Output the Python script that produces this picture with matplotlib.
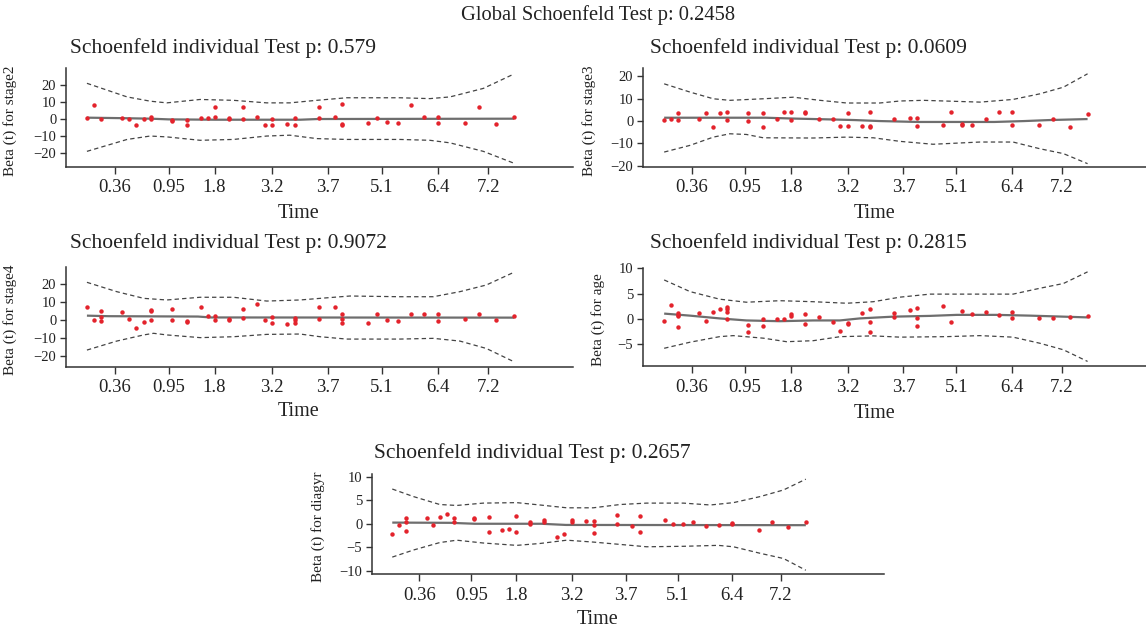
import matplotlib
matplotlib.use("Agg")
import matplotlib.pyplot as plt

plt.rcParams['font.family'] = ['Liberation Serif', 'DejaVu Serif']

W, H = 1146, 633

# ---------------- data ----------------
global_title = "Global Schoenfeld Test p: 0.2458"

# transformed event-time positions (shared by all panels)
time_pos = [0, 1.6, 3.3, 8.3, 9.8, 11.5, 13.3, 14.9, 19.8, 23.4, 26.6, 28.3, 29.9,
            33.3, 36.6, 39.8, 41.6, 43.4, 46.8, 48.7, 54.3, 58.0, 59.8, 65.9, 67.8,
            70.3, 72.8, 75.9, 79.0, 82.2, 88.6, 91.8, 95.8, 100]
tick_pos = [6.5, 19.1, 29.9, 43.4, 56.5, 69.0, 82.2, 93.9]
tick_labels = ["0.36", "0.95", "1.8", "3.2", "3.7", "5.1", "6.4", "7.2"]

variables = ["stage2", "stage3", "stage4", "age", "diagyr"]
p_values = ["0.579", "0.0609", "0.9072", "0.2815", "0.2657"]

stage2_resid = [[0.4], [8.2], [-0.2], [0.4], [-0.2], [-3.5], [-0.2], [1.2, -0.2], [-0.6, -1.4],
                [-0.6, -3.3], [0.4], [0.4], [7, 1], [0.4, -0.2], [7, -0.2], [1], [-3.3],
                [-0.2, -3.3], [-3], [0.4, -3.3], [7, 0.4], [1], [8.6, -3, -3.5], [-2.3], [0.4],
                [-1.8], [-2.3], [8], [1], [1, -2.3], [-2.3], [7], [-3], [1]]
stage3_resid = [[0.6], [1.0], [3.6, 0.6], [1.0], [3.6], [-2.7], [3.6], [4.0, 0.6], [3.6, 0.1],
                [3.6, -2.7], [1.0], [4.0], [4.0, 0.6], [4.0, 3.6], [1.0], [1.0], [-2.2],
                [3.6, -2.2], [-2.2], [4.0, -2.2, -2.7], [1.0], [1.5], [1.5, -2.2], [-1.9], [4.0],
                [-1.3, -1.6], [-1.9], [1.0], [4.0], [4.0, -1.9], [-1.9], [1.0], [-2.7], [3.1]]
stage4_resid = [[7.4], [0], [5.4, 1.9, -0.6], [4.8], [0.7], [-4.1], [-0.9], [5.9, 5.0, 0],
                [6.3, 0], [-0.2, -1.1], [7.4], [2.2], [2.2, 0.2], [0.9, 0.4], [6.3, 1.1], [8.9],
                [0.2], [1.9, -1.5], [-2.0], [1.5, 0.2, -1.5], [7.4, 0.6], [7.4], [3.7, 0.6, -1.5],
                [-1.5], [3.7], [0.2], [-0.4], [3.3], [3.3], [3.3, -0.4], [0.6], [3.3], [0], [2.6]]
age_resid = [[-0.4], [2.8], [1.1, 0.8, 0.6, -1.6], [1.1], [-0.5], [1.4], [2.0], [2.3, 2.0, 1.4, 0],
             [-1.25, -2.6], [-0.1, -1.45], [0], [0], [1.05, 0.6], [1.05, -1.1], [0.4], [-0.7],
             [-2.4], [-0.85, -1.05], [1.25], [2.0, -0.6, -2.6], [1.1, 0.4], [1.85],
             [2.2, 0.2, -1.45], [2.55], [-0.6], [1.65], [1.05], [1.45], [0.7], [1.45, 0.2],
             [0.2], [0.2], [0.4], [0.6]]
diagyr_resid = [[-2.2], [-0.2], [1.3, 0.4, -1.5], [1.2], [-0.2], [1.5], [2.1], [1.3, 0.3],
                [1.2, 1.0], [1.4, -1.8], [-1.35], [-1.15], [1.7, -1.8], [0.3, -0.15], [0.7, 0.4],
                [-2.8], [-2.2], [0.7, 0.4], [0.5], [0.5, -0.35, -2.0], [1.85, 0], [-0.4],
                [1.7, -1.8], [0.7], [-0.15], [-0.15], [0.4], [-0.4], [-0.2], [0.07, -0.15],
                [-1.35], [0.3], [-0.65], [0.3]]

# smoothed beta(t) curves
stage2_fit_x = [0, 8.6, 15, 19.1, 30, 50, 54, 100]
stage2_fit_y = [0.8, 0.5, 0.2, -0.2, -0.4, -0.4, 0.0, 0.2]
stage3_fit_x = [0, 24, 31, 39, 45, 51, 60, 78, 85, 91, 100]
stage3_fit_y = [1.5, 1.5, 1.1, 0.75, 0.45, 0.0, -0.4, -0.4, 0.0, 0.45, 0.9]
stage4_fit_x = [0, 5, 26, 29, 100]
stage4_fit_y = [2.6, 2.3, 2.1, 1.6, 1.5]
age_fit_x = [0, 6.1, 13.1, 19.4, 27.3, 35.2, 41.5, 46.2, 54.1, 62.8, 69.1, 78.5, 86.4, 94.3, 100]
age_fit_y = [1.05, 0.65, 0.1, -0.3, -0.45, -0.3, -0.3, 0.1, 0.45, 0.6, 0.8, 0.8, 0.65, 0.45, 0.3]
diagyr_fit_x = [0, 14, 20, 36, 42, 100]
diagyr_fit_y = [0.25, 0.2, 0.0, 0.0, -0.25, -0.3]

# confidence bands
stage2_up_x = [0, 9.4, 14.8, 18.7, 26.5, 34.3, 42.1, 47.5, 53.8, 60.8, 73.3, 80.3, 85, 92.8, 100]
stage2_up_y = [21, 13, 10.5, 9.5, 11.5, 11, 9.5, 9.5, 11, 12.5, 12.5, 12, 13, 18, 26.5]
stage2_lo_x = stage2_up_x
stage2_lo_y = [-19, -12, -10, -10.5, -12.5, -12, -10, -9.5, -11.5, -12, -12, -12.5, -14, -19, -26]

stage3_up_x = [0, 6.1, 11.6, 15.5, 23.4, 30.5, 36.8, 43.1, 50.9, 55.7, 61.2, 74.6, 82.4, 88.7, 94.3, 100]
stage3_up_y = [16.7, 13, 10, 9.3, 10, 10.7, 9.3, 8.1, 8.1, 9, 9.3, 8.5, 9.7, 12.2, 15.2, 21.2]
stage3_lo_x = [0, 6.1, 11.6, 15.5, 19.4, 23.4, 35.2, 43.1, 49.4, 55.7, 63.5, 74.6, 82.4, 88.7, 94.3, 100]
stage3_lo_y = [-13.9, -10.9, -7.2, -5.7, -6.0, -7.5, -7.6, -7.2, -7.5, -9.1, -10.4, -9.4, -9.4, -12.4, -14.6, -19.1]

stage4_up_x = [0, 7, 13.3, 18.7, 26.5, 34.3, 42.1, 49.9, 54.6, 61.6, 73.3, 81.1, 87.3, 93.5, 100]
stage4_up_y = [21.1, 15.9, 12.2, 11.3, 12.8, 12.8, 10.7, 11.3, 12.2, 13.5, 13.1, 13.1, 15.9, 19.6, 26.7]
stage4_lo_x = [0, 7, 13.3, 15.6, 18.7, 26.5, 34.3, 42.1, 49.9, 54.6, 60.8, 73.3, 81.1, 87.3, 93.5, 100]
stage4_lo_y = [-16.5, -11.5, -8.1, -7.2, -8.1, -9.6, -9.1, -7.8, -7.6, -9.1, -10.4, -10.4, -10, -11.5, -15.6, -23.0]

age_up_x = [0, 6.1, 13.1, 19.4, 27.3, 35.2, 43.1, 49.4, 55.7, 62.8, 74.6, 82.4, 88.7, 94.3, 100]
age_up_y = [7.7, 5.4, 3.9, 3.3, 3.6, 3.4, 3.1, 3.4, 4.3, 4.9, 4.9, 4.9, 6.05, 7.0, 9.3]
age_lo_x = [0, 6.1, 13.1, 16.3, 23.4, 28.9, 35.2, 41.6, 49.4, 55.7, 66.7, 74.6, 82.4, 88.7, 94.3, 100]
age_lo_y = [-5.8, -4.6, -3.5, -3.3, -3.8, -4.5, -4.3, -3.5, -3.35, -3.6, -3.5, -3.3, -3.6, -4.8, -6.1, -8.4]

diagyr_up_x = [0, 5.1, 11.5, 15.6, 22, 30.1, 35.7, 42.2, 48.6, 55.1, 61.5, 70.4, 76.9, 82.5, 89, 94.6, 100]
diagyr_up_y = [7.4, 5.8, 4.1, 3.9, 4.4, 4.5, 4.0, 3.4, 3.4, 4.1, 4.4, 4.4, 4.0, 4.5, 5.8, 7.2, 9.5]
diagyr_lo_x = [0, 5.1, 11.5, 15.6, 22, 30.1, 35.7, 42.2, 48.6, 55.1, 61.5, 70.4, 78.8, 82.5, 89, 94.6, 100]
diagyr_lo_y = [-7.1, -5.6, -4.0, -3.5, -4.1, -4.6, -4.2, -3.5, -3.9, -4.4, -4.9, -4.8, -4.6, -4.9, -6.3, -7.4, -9.9]

y_ticks = {"stage2": [-20, -10, 0, 10, 20], "stage3": [-20, -10, 0, 10, 20],
           "stage4": [-20, -10, 0, 10, 20], "age": [-5, 0, 5, 10], "diagyr": [-10, -5, 0, 5, 10]}

# ---------------- layout (pixels) ----------------
# name: (left, right, top, bottom, xlim, ylim, title_xy, time_xy, ylab_x)
layout = {
    "stage2": (66, 573, 68, 167, (-4.9, 113.8), (-28.2, 30.0), (70, 48), (299, 214), 17),
    "stage3": (643, 1146, 68, 167, (-5.0, 113.8), (-20.6, 23.8), (650, 48), (875, 214), 596),
    "stage4": (66, 573, 267, 367, (-4.9, 113.8), (-25.9, 29.6), (70, 243), (299, 412), 17),
    "age":    (643, 1146, 268, 366, (-5.0, 113.8), (-9.3, 10.06), (650, 243), (875, 413), 605),
    "diagyr": (372, 884, 474, 574, (-4.9, 118.9), (-10.7, 10.6), (374, 453), (598, 619), 325),
}

resid = {"stage2": stage2_resid, "stage3": stage3_resid, "stage4": stage4_resid,
         "age": age_resid, "diagyr": diagyr_resid}
fits = {"stage2": (stage2_fit_x, stage2_fit_y), "stage3": (stage3_fit_x, stage3_fit_y),
        "stage4": (stage4_fit_x, stage4_fit_y), "age": (age_fit_x, age_fit_y),
        "diagyr": (diagyr_fit_x, diagyr_fit_y)}
bands = {"stage2": (stage2_up_x, stage2_up_y, stage2_lo_x, stage2_lo_y),
         "stage3": (stage3_up_x, stage3_up_y, stage3_lo_x, stage3_lo_y),
         "stage4": (stage4_up_x, stage4_up_y, stage4_lo_x, stage4_lo_y),
         "age": (age_up_x, age_up_y, age_lo_x, age_lo_y),
         "diagyr": (diagyr_up_x, diagyr_up_y, diagyr_lo_x, diagyr_lo_y)}

fig = plt.figure(figsize=(W / 100, H / 100), dpi=100)
fig.text(598 / W, 1 - 15 / H, global_title, ha="center", va="center", fontsize=14.8, color="#222222")

axis_col = "#333333"
for var, p in zip(variables, p_values):
    l, r, t, b, xl, yl, (tx, ty), (mx, my), ylx = layout[var]
    ax = fig.add_axes([l / W, 1 - b / H, (r - l) / W, (b - t) / H])
    xs, ys = [], []
    for xp, vals in zip(time_pos, resid[var]):
        for v in vals:
            xs.append(xp)
            ys.append(v)
    fx, fy = fits[var]
    ux, uy, lx, ly = bands[var]
    ax.plot(fx, fy, color="#6e6e6e", lw=1.6, solid_capstyle="butt", zorder=2)
    ax.plot(ux, uy, color="#444444", lw=0.9, ls=(0, (3.5, 2.5)), zorder=2)
    ax.plot(lx, ly, color="#444444", lw=0.9, ls=(0, (3.5, 2.5)), zorder=2)
    ax.plot(xs, ys, ls="none", marker="o", ms=3.2, mfc="#e3232c", mec="#e3232c", mew=0, zorder=3)
    ax.set_xlim(*xl)
    ax.set_ylim(*yl)
    ax.set_xticks(tick_pos)
    ax.set_xticklabels(tick_labels, fontsize=13.5, color="#222222")
    ax.set_yticks(y_ticks[var])
    ax.set_yticklabels([str(v).replace("-", "\u2212") for v in y_ticks[var]], fontsize=10.5, color="#222222")
    for s in ("top", "right"):
        ax.spines[s].set_visible(False)
    for s in ("left", "bottom"):
        ax.spines[s].set_color(axis_col)
        ax.spines[s].set_linewidth(1.1)
    ax.tick_params(axis="x", length=5, width=1, color=axis_col, pad=4)
    ax.tick_params(axis="y", length=4, width=1, color=axis_col, pad=3)
    ax.set_ylabel(f"Beta (t) for {var}", fontsize=11, color="#222222")
    ax.yaxis.set_label_coords((ylx - l) / (r - l), 0.47)
    fig.text(tx / W, 1 - ty / H, f"Schoenfeld individual Test p: {p}", ha="left", va="center",
             fontsize=15.5, color="#222222")
    fig.text(mx / W, 1 - my / H, "Time", ha="center", va="center", fontsize=14.5, color="#222222")

fig.savefig("out.png", dpi=100)
